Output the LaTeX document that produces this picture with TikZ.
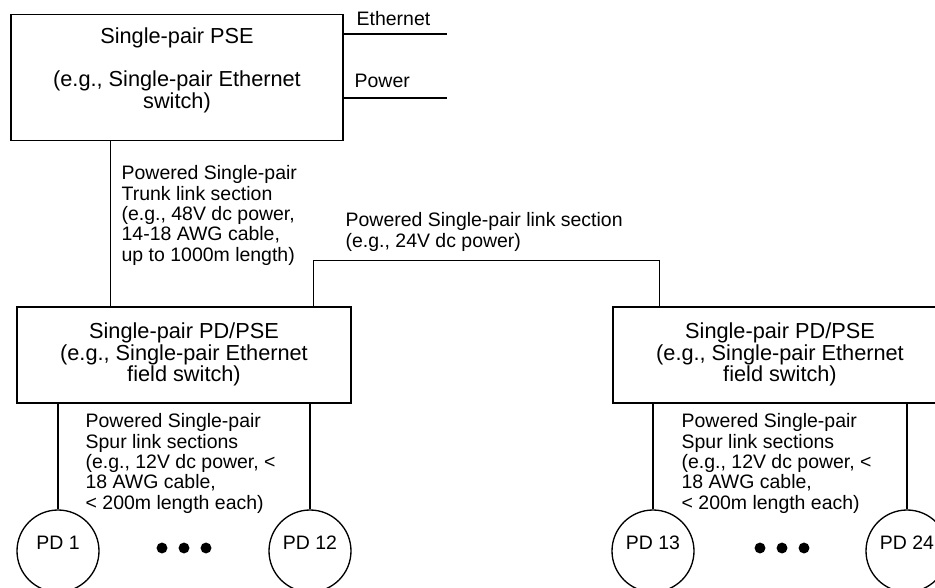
\documentclass[tikz,border=0pt]{standalone}
\usepackage{fontspec}
\setmainfont{Liberation Sans}
\usetikzlibrary{calc}
\begin{document}
\begin{tikzpicture}[x=0.75pt,y=-0.75pt, line width=1pt,
  box/.style={draw, rectangle, inner sep=0pt},
  boxtext/.style={align=center, anchor=north, inner sep=0pt, font=\fontsize{16.3}{16.2}\selectfont},
  lbl/.style={align=left, anchor=north west, inner sep=0pt, font=\fontsize{14.6}{15.3}\selectfont},
  pd/.style={draw, circle, minimum size=61.5pt, inner sep=0pt, font=\fontsize{14.6}{15}\selectfont, text depth=12pt},
  dotn/.style={fill, circle, minimum size=8.2pt, inner sep=0pt}]
\useasboundingbox (0,0) rectangle (935,588);

% top PSE box
\node[box, minimum width=249pt, minimum height=94.5pt] (pse) at (177,77.5) {};
\node[boxtext] (psetxt) at (177,27) {Single-pair PSE\\[16.2pt](e.g., Single-pair Ethernet\\switch)};

\node[lbl] (ethl) at (356,11) {Ethernet};
\node[lbl] (pwrl) at (354,73) {Power};
\coordinate (ethend) at (447,34);
\coordinate (pwrend) at (447,98);
\draw (ethend -| pse.east) -- (ethend);
\draw (pwrend -| pse.east) -- (pwrend);

% field switches
\node[box, minimum width=250.5pt, minimum height=72pt] (sw1) at (184,355) {};
\node[boxtext] (sw1txt) at (184,322) {Single-pair PD/PSE\\(e.g., Single-pair Ethernet\\field switch)};
\node[box, minimum width=250.5pt, minimum height=72pt] (sw2) at (780,355) {};
\node[boxtext] (sw2txt) at (780,322) {Single-pair PD/PSE\\(e.g., Single-pair Ethernet\\field switch)};

% trunk
\coordinate (trunk) at ($(pse.south west)!0.301!(pse.south east)$);
\draw (trunk) -- (trunk |- sw1.north);
\node[lbl] (trunkl) at (121,165) {Powered Single-pair\\Trunk link section\\(e.g., 48V dc power,\\14-18 AWG cable,\\up to 1000m length)};

% link between switches
\coordinate (l1) at ($(sw1.north west)!0.886!(sw1.north east)$);
\coordinate (l2) at ($(sw2.north west)!0.141!(sw2.north east)$);
\draw (l1) -- ++(0,-46) -| (l2);
\node[lbl] (linkl) at (345,212) {Powered Single-pair link section\\(e.g., 24V dc power)};

% PDs
\node[pd] (pd1) at (58,551) {PD 1};
\node[pd] (pd12) at (310,551) {PD 12};
\node[pd] (pd13) at (653,551) {PD 13};
\node[pd] (pd24) at (907,551) {PD 24};

\draw (pd1.north) -- (pd1.north |- sw1.south);
\draw (pd12.north) -- (pd12.north |- sw1.south);
\draw (pd13.north) -- (pd13.north |- sw2.south);
\draw (pd24.north) -- (pd24.north |- sw2.south);

\node[lbl] (spur1) at (85,413) {Powered Single-pair\\Spur link sections\\(e.g., 12V dc power, <\\18 AWG cable,\\< 200m length each)};
\node[lbl] (spur2) at (681,413) {Powered Single-pair\\Spur link sections\\(e.g., 12V dc power, <\\18 AWG cable,\\< 200m length each)};

% dots
\node[dotn] (d1) at (162,548) {};
\node[dotn] (d2) at (184,548) {};
\node[dotn] (d3) at (206,548) {};
\node[dotn] (d4) at (760,548) {};
\node[dotn] (d5) at (782,548) {};
\node[dotn] (d6) at (804,548) {};
\end{tikzpicture}
\end{document}
